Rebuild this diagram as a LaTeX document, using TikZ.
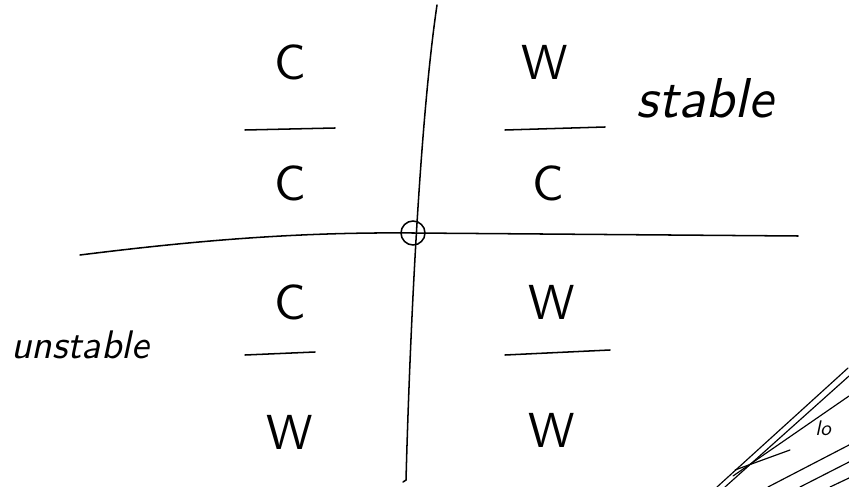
\documentclass[tikz,border=0pt]{standalone}
\usepackage{tikz}

\begin{document}
\begin{tikzpicture}[x=0.03cm, y=-0.03cm, line width=1.3pt, line cap=round]
  \useasboundingbox (0,0) rectangle (849,487);
  \tikzset{
    letter/.style={font=\sffamily, scale=4.2, inner sep=0pt},
    word/.style={font=\sffamily\itshape, inner sep=0pt}
  }
  % Achsen
  \coordinate (top) at (437,5);
  \coordinate (bot) at (406,480);
  \coordinate (left) at (80,255);
  \coordinate (right) at (798,236);
  \coordinate (O) at (413,233);
  \draw (top) .. controls (420,120) and (410,330) .. (bot) -- ++(-3,2);
  \draw (left) .. controls (200,240) and (300,232) .. (O) -- (right);
  \draw (O) circle (12);

  % Brueche oben links
  \node[letter] (c1) at (290,62) {C};
  \draw (245,130) -- (335,128);
  \node[letter] (c2) at (290,183) {C};

  % oben rechts
  \node[letter] (w1) at (545,62) {W};
  \draw (505,130) -- (605,127);
  \node[letter] (c3) at (548,183) {C};

  % unten links
  \node[letter] (c4) at (290,302) {C};
  \draw (245,355) -- (315,352);
  \node[letter] (w2) at (290,432) {W};

  % unten rechts
  \node[letter] (w3) at (552,302) {W};
  \draw (505,355) -- (610,350);
  \node[letter] (w4) at (552,430) {W};

  % Beschriftungen
  \node[word, scale=4.8] (stable) at (705,98) {stable};
  \node[word, scale=3.4] (unstable) at (80,345) {unstable};

  % Ecke unten rechts
  \begin{scope}
    \clip (680,340) rectangle (849,487);
    \draw[line width=1pt] (717,487) -- (848,368);
    \draw[line width=1pt] (725,487) -- (849,376);
    \draw[line width=1pt] (733,476) -- (849,396);
    \draw[line width=1pt] (735,470) -- (790,450);
    \draw[line width=1pt] (768,487) -- (849,445);
    \draw[line width=1pt] (800,487) -- (849,462);
    \draw[line width=1pt] (830,487) -- (849,478);
  \end{scope}
  \node[word, scale=1.8, anchor=west] (lo) at (814,428) {lo};
\end{tikzpicture}
\end{document}
